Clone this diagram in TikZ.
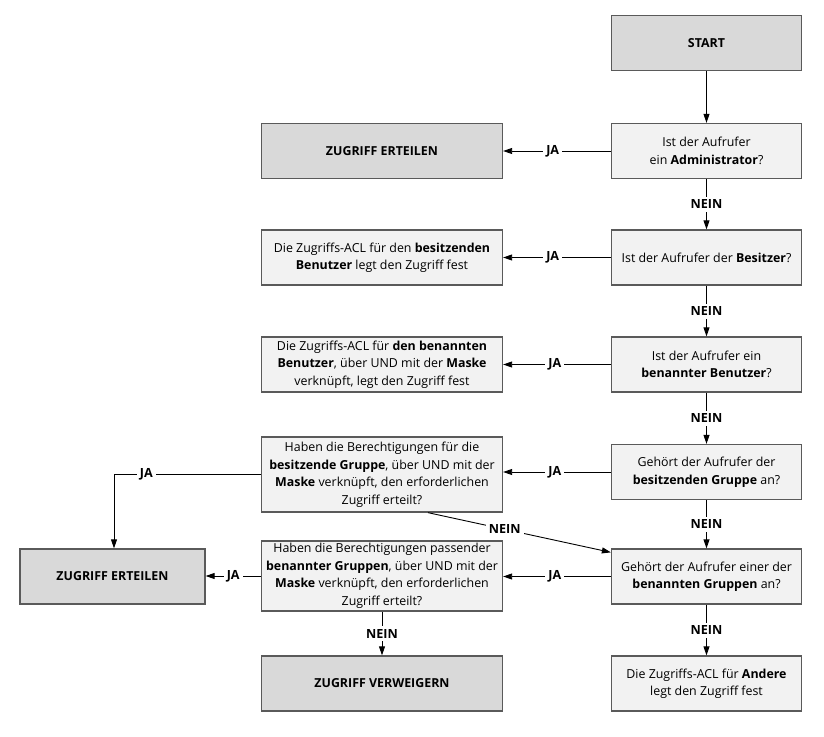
\documentclass[tikz,border=0pt]{standalone}
\usepackage{fontspec}
\setmainfont{Open Sans}
\usetikzlibrary{arrows.meta}
\definecolor{boxline}{HTML}{5A5A5A}
\definecolor{lightfill}{HTML}{F2F2F2}
\definecolor{darkfill}{HTML}{D9D9D9}
\begin{document}
\begin{tikzpicture}[x=1pt,y=-1pt,
  box/.style={draw=boxline, line width=1.3pt, align=center, inner sep=0pt,
    font=\fontsize{12.4}{17.5}\selectfont},
  qbox/.style={box, fill=lightfill, minimum width=190pt, minimum height=55pt},
  abox/.style={box, fill=lightfill, minimum width=241pt, minimum height=55pt},
  endbox/.style={box, fill=darkfill, minimum height=55pt, font=\bfseries\fontsize{12.4}{17.5}\selectfont},
  arr/.style={-{Triangle[length=9pt,width=6pt]}, line width=0.9pt},
  lbl/.style={fill=white, inner sep=3pt, font=\bfseries\fontsize{12.6}{14}\selectfont}
]
\useasboundingbox (0,0) rectangle (824,736);

% right column: the chain of questions
\node[endbox, minimum width=190pt] (start) at (706.5,43) {START};
\node[qbox] (q1) at (706.5,151) {Ist der Aufrufer\\ein \textbf{Administrator}?};
\node[qbox] (q2) at (706.5,257.5) {Ist der Aufrufer der \textbf{Besitzer}?};
\node[qbox] (q3) at (706.5,364.5) {Ist der Aufrufer ein\\\textbf{benannter Benutzer}?};
\node[qbox] (q4) at (706.5,472) {Gehört der Aufrufer der\\\textbf{besitzenden Gruppe} an?};
\node[qbox] (q5) at (706.5,576.5) {Gehört der Aufrufer einer der\\\textbf{benannten Gruppen} an?};
\node[qbox] (q6) at (706.5,683.5) {Die Zugriffs-ACL für \textbf{Andere}\\legt den Zugriff fest};

% middle column: outcomes and group checks
\node[endbox, minimum width=241pt] (grant1) at (382,151) {ZUGRIFF ERTEILEN};
\node[abox] (a2) at (382,257.5) {Die Zugriffs-ACL für den \textbf{besitzenden}\\\textbf{Benutzer} legt den Zugriff fest};
\node[abox] (a3) at (382,364.5) {Die Zugriffs-ACL für \textbf{den benannten}\\\textbf{Benutzer}, über UND mit der \textbf{Maske}\\verknüpft, legt den Zugriff fest};
\node[abox, minimum height=75pt] (a4) at (382,474.5) {Haben die Berechtigungen für die\\\textbf{besitzende Gruppe}, über UND mit der\\\textbf{Maske} verknüpft, den erforderlichen\\Zugriff erteilt?};
\node[abox, minimum height=70pt] (a5) at (382,576) {Haben die Berechtigungen passender\\\textbf{benannter Gruppen}, über UND mit der\\\textbf{Maske} verknüpft, den erforderlichen\\Zugriff erteilt?};
\node[endbox, minimum width=241pt] (deny) at (382,683.5) {ZUGRIFF VERWEIGERN};

% left column
\node[endbox, minimum width=185pt] (grant2) at (112.5,576.5) {ZUGRIFF ERTEILEN};

% helper points
\coordinate (a4out) at ([xshift=46pt]a4.south);
\coordinate (q5in) at ([yshift=-4pt]q5.north west);
\coordinate (jacorner) at (114,474.5);

% NEIN chain
\draw[arr] (start) -- (q1);
\draw[arr] (q1) -- node[lbl]{NEIN} (q2);
\draw[arr] (q2) -- node[lbl]{NEIN} (q3);
\draw[arr] (q3) -- node[lbl]{NEIN} (q4);
\draw[arr] (q4) -- node[lbl]{NEIN} (q5);
\draw[arr] (q5) -- node[lbl]{NEIN} (q6);

% JA branches
\draw[arr] (q1.west) -- node[lbl, pos=0.54]{JA} (grant1.east);
\draw[arr] (q2.west) -- node[lbl, pos=0.54]{JA} (a2.east);
\draw[arr] (q3.west) -- node[lbl, pos=0.52]{JA} (a3.east);
\draw[arr] (q4.west) -- node[lbl, pos=0.52]{JA} (q4.west -| a4.east);
\draw[arr] (q5.west) -- node[lbl, pos=0.52]{JA} (q5.west -| a5.east);

% group permission checks
\draw[line width=0.9pt] (a4.west) -- node[lbl, pos=0.78]{JA} (jacorner);
\draw[arr] (jacorner) -- (jacorner |- grant2.north);
\draw[arr] (a5.west) -- node[lbl]{JA} (a5.west -| grant2.east);
\draw[arr] (a4out) -- node[lbl, pos=0.42]{NEIN} (q5in);
\draw[arr] (a5) -- node[lbl]{NEIN} (deny);
\end{tikzpicture}
\end{document}
